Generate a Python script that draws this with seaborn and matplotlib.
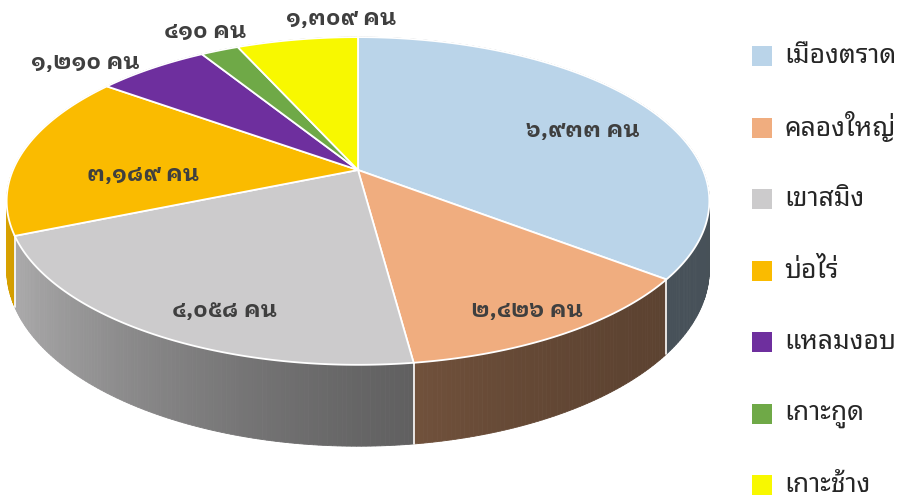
import numpy as np
import matplotlib
matplotlib.use("Agg")
import matplotlib.pyplot as plt
import seaborn as sns

# data: districts and number of people
districts = ['เมืองตราด', 'คลองใหญ่', 'เขาสมิง', 'บ่อไร่', 'แหลมงอบ', 'เกาะกูด', 'เกาะช้าง']
people = [6933, 2426, 4058, 3189, 1210, 410, 1309]
colors = ['#bad4e9', '#f0ad7f', '#cccbcc', '#fabb00', '#6e2f9e', '#6fa947', '#f8f800']

# label anchor positions (pixels) as Excel placed them
label_pos = [(583, 130), (527, 311), (225, 311), (143, 175), (85, 62), (205, 32), (341, 18)]

THAI_DIGITS = str.maketrans('0123456789', '๐๑๒๓๔๕๖๗๘๙')


def thai_number(n):
    return '{:,}'.format(n).translate(THAI_DIGITS) + ' คน'


sns.set_theme(style='white')
plt.rcParams['font.family'] = ['Noto Sans Thai Looped', 'DejaVu Sans']
label_font = ['IBM Plex Sans Thai Looped', 'DejaVu Sans']

# 3d pie geometry (pixels)
cx, cy = 358, 170
sx, sy = 345, 158
k = 0.189
depth = 66


def project(theta, r=1.0, h=0.0):
    u = r * np.sin(theta)
    v = -r * np.cos(theta)
    w = 1 - k * v
    return cx + sx * u / w, cy + (sy * v + h) / w


def shade(rgb, theta):
    u = np.sin(theta)
    f = 0.5 - 0.25 * u + 0.13 * u ** 2
    return tuple(np.clip(np.array(rgb) * f, 0, 1))


fig = plt.figure(figsize=(9.01, 5), dpi=100)
ax = fig.add_axes([0, 0, 1, 1])
ax.set_xlim(0, 901)
ax.set_ylim(500, 0)
ax.axis('off')

fracs = np.array(people) / sum(people)
bounds = np.concatenate([[0], np.cumsum(fracs)]) * 2 * np.pi
pal = sns.color_palette(colors)

# side pieces, far ones first
pieces = []
for i in range(len(people)):
    t = np.linspace(bounds[i], bounds[i + 1], max(3, int((bounds[i + 1] - bounds[i]) * 90)))
    for a, b in zip(t[:-1], t[1:]):
        m = (a + b) / 2
        pieces.append((-np.cos(m), a, b, pal[i]))
pieces.sort(key=lambda p: p[0])
for _, a, b, c in pieces:
    x1, y1 = project(a)
    x2, y2 = project(b)
    x3, y3 = project(b, h=depth)
    x4, y4 = project(a, h=depth)
    col = shade(c, (a + b) / 2)
    ax.fill([x1, x2, x3, x4], [y1, y2, y3, y4], color=col, lw=0.6, ec=col)

# white seams on the visible side
for b in bounds:
    if -np.cos(b) > 0:
        x1, y1 = project(b)
        x2, y2 = project(b, h=depth)
        ax.plot([x1, x2], [y1, y2], color='white', lw=1.2)

# top face
for i in range(len(people)):
    t = np.linspace(bounds[i], bounds[i + 1], 200)
    xs, ys = project(t)
    ax.fill(np.r_[cx, xs], np.r_[cy, ys], color=pal[i], ec='white', lw=1.3)

# data labels
for (lx, ly), n in zip(label_pos, people):
    ax.text(lx, ly, thai_number(n), ha='center', va='center', fontsize=16.5,
            fontweight='bold', color='#3f3f3f', family=label_font)

# legend drawn as squares + text
for i, (name, c) in enumerate(zip(districts, pal)):
    y = 56 + 71.5 * i
    ax.scatter([762], [y], marker='s', s=190, color=c, linewidths=0)
    ax.text(784, y, name, ha='left', va='center', fontsize=19, color='#262626')

plt.savefig('out.png', dpi=100)
